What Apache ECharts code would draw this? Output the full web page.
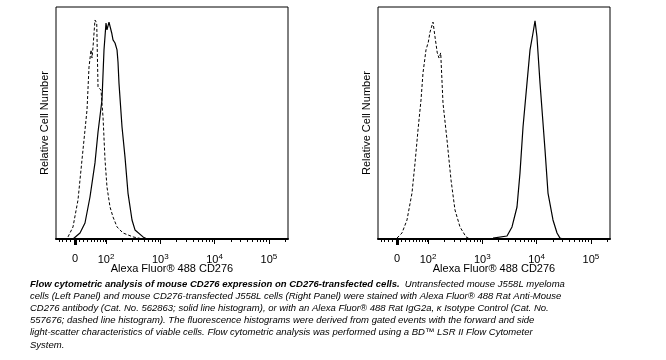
<!DOCTYPE html>
<html><head><meta charset="utf-8">
<script src="https://cdn.jsdelivr.net/npm/echarts@6/dist/echarts.min.js"></script>
<style>html,body{margin:0;padding:0;background:#fff}#c{width:666px;height:360px}</style>
</head><body><div id="c"></div>
<script>
// x values are in axis display units (decades; 10^k -> k, biexponential near zero)
const leftSolidX = [1.392,1.521,1.613,1.705,1.797,1.853,1.926,1.963,2.0,2.018,2.055,2.105,2.129,2.166,2.203,2.221,2.239,2.295,2.35,2.405,2.479,2.534,2.682,2.755];
const leftSolidY = [0,2.6,6.9,18.1,32.8,46.1,59.9,81.5,93.1,90.1,93.5,88.8,85.8,84.5,81.5,76.3,67.2,48.3,35.3,19.8,8.2,3.9,0.9,0];
const leftDashX = [1.30,1.392,1.484,1.576,1.65,1.687,1.724,1.742,1.761,1.797,1.829,1.853,1.908,1.945,1.982,2.018,2.074,2.129,2.203,2.313,2.497,2.682];
const leftDashY = [0.9,5.2,16.8,38.4,55.6,74.1,81.5,78.0,82.8,94.4,93.1,65.5,64.2,52.6,34.1,22.4,13.8,9.5,5.2,2.6,0.9,0];
const rightDashX = [1.429,1.521,1.613,1.705,1.761,1.816,1.871,1.908,1.963,2.006,2.037,2.092,2.129,2.171,2.203,2.234,2.276,2.35,2.424,2.497,2.589,2.70,2.774];
const rightDashY = [0.4,2.6,8.2,19.8,32.8,47.0,59.9,71.6,81.5,84.9,89.2,93.5,87.1,80.2,78.0,80.2,58.6,42.7,25.4,12.5,5.2,0.9,0];
const rightSolidX = [3.197,3.455,3.547,3.639,3.694,3.75,3.823,3.879,3.934,3.971,4.007,4.063,4.118,4.155,4.21,4.302,4.376,4.431,4.49];
const rightSolidY = [0.4,1.3,5.2,13.8,28.4,48.3,67.2,81.5,88.8,94.0,87.1,67.2,50.0,38.4,19.8,8.2,2.6,0.4,0];

const tickLabelValues = [0, 100, 1000, 10000, 100000];
const tickLabelTexts = ['0', '10{s|2}', '10{s|3}', '10{s|4}', '10{s|5}'];
const minorTickValues = [-40,-30,-20,-10,10,20,30,40,50,60,70,80,90,
  200,300,400,500,600,700,800,900,2000,3000,4000,5000,6000,7000,8000,9000,
  20000,30000,40000,50000,60000,70000,80000,90000,200000];
const xAxisName = 'Alexa Fluor® 488 CD276';
const yAxisName = 'Relative Cell Number';
const captionBold = 'Flow cytometric analysis of mouse CD276 expression on CD276-transfected cells.';
const captionLines = [
  '  Untransfected mouse J558L myeloma',
  'cells (Left Panel) and mouse CD276-transfected J558L cells (Right Panel) were stained with Alexa Fluor® 488 Rat Anti-Mouse',
  'CD276 antibody (Cat. No. 562863; solid line histogram), or with an Alexa Fluor® 488 Rat IgG2a, κ Isotype Control (Cat. No.',
  '557676; dashed line histogram). The fluorescence histograms were derived from gated events with the forward and side',
  'light-scatter characteristics of viable cells. Flow cytometric analysis was performed using a BD™ LSR II Flow Cytometer',
  'System.'
];

const XMIN = 1.079, XMAX = 5.352, WB = 26.9;
function pos(v){ if (v >= 100) return Math.log10(v); return Math.log10(v/2 + Math.sqrt(v*v/4 + WB*WB)); }
const majorPos = tickLabelValues.map(pos);
const minorPos = minorTickValues.map(pos).filter(p => p >= XMIN && p <= XMAX);
function fmt(val){
  let best = 0, bd = 1e9;
  majorPos.forEach((p,i)=>{ const d=Math.abs(p-val); if(d<bd){bd=d;best=i;} });
  return tickLabelTexts[best];
}
const FONT = 'Liberation Sans, Arial, sans-serif';
const grids = [{left:56, top:7, width:232, height:232}, {left:378, top:7, width:232, height:232}];
const xAxes = [], yAxes = [];
grids.forEach((g, gi) => {
  xAxes.push({type:'value', gridIndex:gi, position:'bottom', min:XMIN, max:XMAX, name:xAxisName, nameLocation:'middle', nameGap:24,
    nameMoveOverlap:false,
    nameTextStyle:{fontFamily:FONT, fontSize:11, color:'#000'},
    axisLine:{show:true, onZero:false, lineStyle:{color:'#000', width:2}},
    axisTick:{show:true, length:5, lineStyle:{color:'#000', width:1}, customValues: majorPos.slice(1)},
    axisLabel:{show:true, customValues: majorPos, formatter: fmt, margin:14, fontFamily:FONT, fontSize:11, color:'#000',
      rich:{s:{fontSize:8, fontFamily:FONT, color:'#000', verticalAlign:'bottom', padding:[0,0,6,0]}}},
    splitLine:{show:false}});
  xAxes.push({type:'value', gridIndex:gi, position:'bottom', offset:0, min:XMIN, max:XMAX,
    axisLine:{show:false, onZero:false}, axisLabel:{show:false}, splitLine:{show:false},
    axisTick:{show:true, length:3, lineStyle:{color:'#000', width:1}, customValues: minorPos}});
  xAxes.push({type:'value', gridIndex:gi, position:'bottom', offset:0, min:XMIN, max:XMAX,
    axisLine:{show:false, onZero:false}, axisLabel:{show:false}, splitLine:{show:false},
    axisTick:{show:true, length:6, lineStyle:{color:'#000', width:3}, customValues: [majorPos[0]]}});
  yAxes.push({type:'value', gridIndex:gi, min:0, max:100, name:yAxisName, nameLocation:'middle', nameGap:6,
    nameTextStyle:{fontFamily:FONT, fontSize:11, color:'#000'},
    axisLine:{show:false}, axisTick:{show:false}, axisLabel:{show:false}, splitLine:{show:false}});
});
function series(xs, ys, gi, dashed){
  return {type:'line', xAxisIndex:gi*3, yAxisIndex:gi, data: xs.map((x,i)=>[x, ys[i]]), showSymbol:false, symbol:'none',
    lineStyle:{color:'#000', width: dashed?1:1.2, type: dashed?[3,2]:'solid'}, animation:false, z:3};
}
const graphics = [];
const capX = 30, capY0 = 285, capDy = 12.2, CAPFS = 9.5;
graphics.push({type:'text', left:capX, top:capY0-6, style:{
  text:'{b|'+captionBold+'}{n|'+captionLines[0]+'}',
  rich:{b:{fontFamily:FONT, fontSize:CAPFS, fontStyle:'italic', fontWeight:'bold', fill:'#000'},
        n:{fontFamily:FONT, fontSize:CAPFS, fontStyle:'italic', fill:'#000'}}}});
for (let i=1;i<captionLines.length;i++){
  graphics.push({type:'text', left:capX, top:capY0-6+i*capDy, style:{text:captionLines[i], fontFamily:FONT, fontSize:CAPFS, fontStyle:'italic', fill:'#000'}});
}
const chart = echarts.init(document.getElementById('c'), null, {renderer:'canvas'});
chart.setOption({
  animation:false, backgroundColor:'#fff',
  grid: grids.map(g=>Object.assign({show:true, borderColor:'#000', borderWidth:1, backgroundColor:'transparent'}, g)),
  xAxis: xAxes, yAxis: yAxes,
  series:[series(leftDashX,leftDashY,0,true), series(leftSolidX,leftSolidY,0,false),
          series(rightDashX,rightDashY,1,true), series(rightSolidX,rightSolidY,1,false)],
  graphic: graphics
});
</script></body></html>
